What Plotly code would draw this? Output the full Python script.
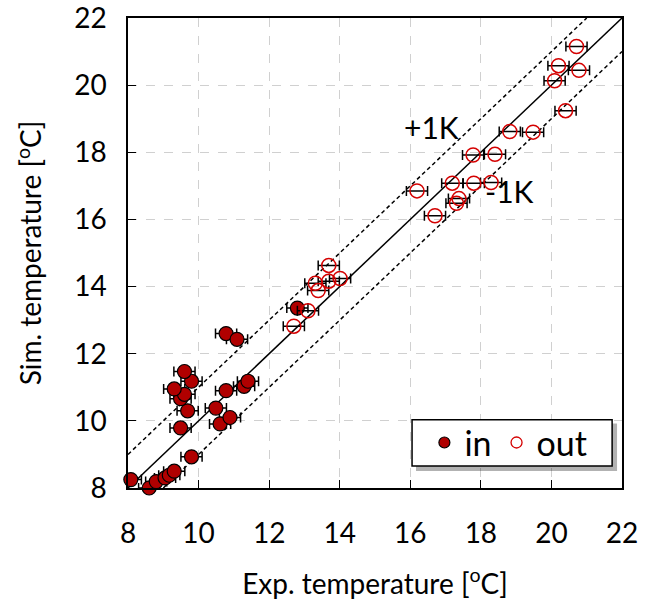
import plotly.graph_objects as go

# inside points
in_x = [8.08, 8.6, 8.8, 9.05, 9.17, 9.31, 9.8, 9.49, 9.69, 9.49, 9.6, 9.31, 9.8, 9.6,
        10.78, 11.09, 10.49, 10.78, 10.61, 10.89, 11.29, 11.4, 12.8]
in_y = [8.25, 8.0, 8.19, 8.3, 8.38, 8.5, 8.93, 9.79, 10.3, 10.66, 10.79, 10.95, 11.18, 11.47,
        12.6, 12.43, 10.38, 10.9, 9.91, 10.1, 11.03, 11.18, 13.36]
# outside points
out_x = [12.7, 13.1, 13.69, 13.31, 13.39, 13.69, 14.01,
         16.19, 17.78, 18.4, 17.19, 17.8, 18.29, 17.38, 17.31, 16.7,
         20.71, 20.2, 20.78, 20.09, 20.4, 18.82, 19.48]
out_y = [12.82, 13.28, 14.63, 14.1, 13.88, 14.16, 14.24,
         16.85, 17.92, 17.94, 17.08, 17.08, 17.1, 16.62, 16.48, 16.11,
         21.15, 20.58, 20.44, 20.13, 19.24, 18.62, 18.6]
err = 0.3
ticks = [8, 10, 12, 14, 16, 18, 20, 22]
line_x = [8, 22]

FONT = "Lato"
IN_COLOR = "#b00000"
OUT_COLOR = "#d40000"
fig = go.Figure()

fig.add_trace(go.Scatter(x=line_x, y=line_x, mode="lines", line=dict(color="black", width=1.5),
                         showlegend=False, hoverinfo="skip"))
fig.add_trace(go.Scatter(x=[8, 21], y=[9, 22], mode="lines",
                         line=dict(color="black", width=1.5, dash="4px,3px"),
                         showlegend=False, hoverinfo="skip"))
fig.add_trace(go.Scatter(x=[9, 22], y=[8, 21], mode="lines",
                         line=dict(color="black", width=1.5, dash="4px,3px"),
                         showlegend=False, hoverinfo="skip"))

fig.add_trace(go.Scatter(
    x=in_x, y=in_y, mode="markers", name="in", showlegend=False, cliponaxis=False,
    marker=dict(size=14, color=IN_COLOR, line=dict(color="black", width=1.2)),
    error_x=dict(type="constant", value=err, color="black", thickness=1.5, width=5),
))
fig.add_trace(go.Scatter(
    x=out_x, y=out_y, mode="markers", name="out", showlegend=False, cliponaxis=False,
    marker=dict(size=14, color="rgba(0,0,0,0)", line=dict(color=OUT_COLOR, width=1.5)),
    error_x=dict(type="constant", value=err, color="black", thickness=1.5, width=5),
))
# legend entries (smaller symbols as in the reference legend)
fig.add_trace(go.Scatter(x=[None], y=[None], mode="markers", name="in",
                         marker=dict(size=11, color=IN_COLOR, line=dict(color="black", width=1.2))))
fig.add_trace(go.Scatter(x=[None], y=[None], mode="markers", name="out",
                         marker=dict(size=11, color="rgba(0,0,0,0)", line=dict(color=OUT_COLOR, width=1.3))))

axis_common = dict(
    range=[8, 22], tickvals=ticks, ticks="inside", ticklen=8, tickcolor="black",
    showline=True, linecolor="black", linewidth=1.5, mirror=True,
    showgrid=True, gridcolor="#d0d0d0", griddash="dash", gridwidth=1,
    zeroline=False, tickfont=dict(size=28, family=FONT, color="black"), automargin=False,
    ticklabeloverflow="allow",
)
fig.update_xaxes(**axis_common, ticklabelstandoff=20,
                 title=dict(text="Exp. temperature [<sup>o</sup>C]", font=dict(size=28, family=FONT, color="black"), standoff=26))
fig.update_yaxes(**axis_common, ticklabelstandoff=14,
                 title=dict(text="Sim. temperature [<sup>o</sup>C]", font=dict(size=28, family=FONT, color="black"), standoff=24))

fig.add_annotation(x=16.6, y=18.75, text="+1K", showarrow=False, font=dict(size=30, family=FONT, color="black"))
fig.add_annotation(x=18.8, y=16.85, text="-1K", showarrow=False, font=dict(size=30, family=FONT, color="black"))

# legend box with shadow
fig.add_shape(type="rect", xref="paper", yref="paper", x0=0.583, x1=0.99, y0=0.036, y1=0.137,
              fillcolor="rgba(0,0,0,0.3)", line=dict(width=0), layer="above")
fig.add_shape(type="rect", xref="paper", yref="paper", x0=0.575, x1=0.98, y0=0.047, y1=0.145,
              fillcolor="white", line=dict(color="black", width=1.5), layer="above")

fig.update_layout(
    width=657, height=609,
    margin=dict(l=128, r=35, t=18, b=121),
    paper_bgcolor="white", plot_bgcolor="white",
    legend=dict(x=0.6, y=0.096, xanchor="left", yanchor="middle", orientation="h",
                bgcolor="rgba(0,0,0,0)", borderwidth=0,
                font=dict(size=34, family=FONT, color="black"), itemwidth=30),
)

fig.write_html("out.html")
